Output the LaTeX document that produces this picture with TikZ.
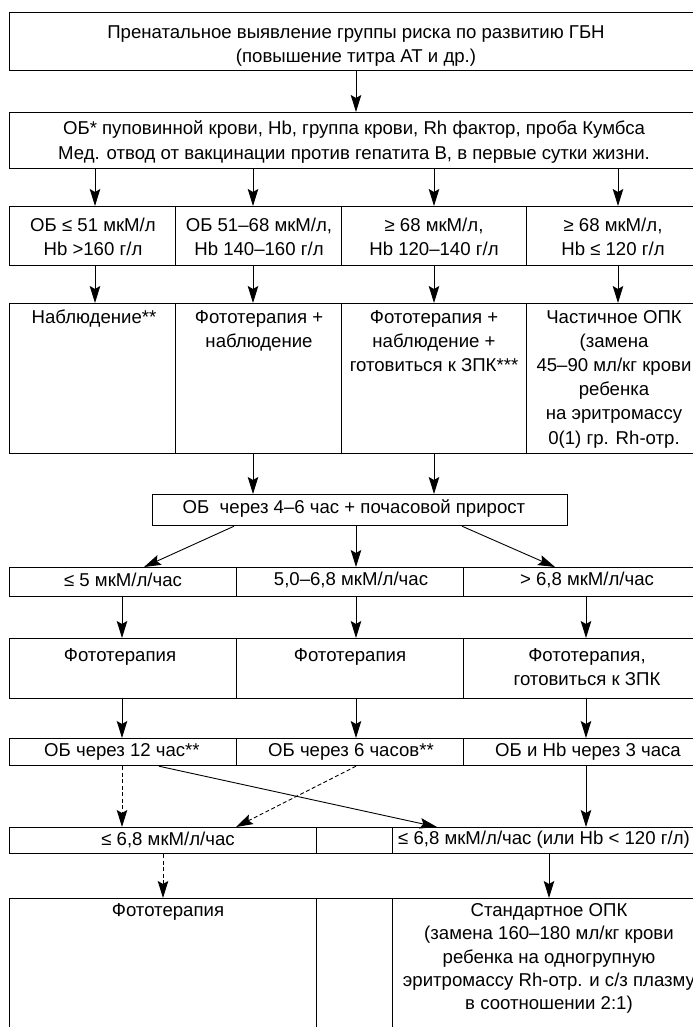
\documentclass[tikz,border=0pt]{standalone}
\usepackage{fontspec}
\setmainfont{Liberation Sans}
\usetikzlibrary{arrows.meta,calc}
\begin{document}
\begin{tikzpicture}[x=1bp,y=-1bp,
  cell/.style={draw, line width=1.2bp, anchor=north west, inner sep=0pt},
  txt/.style={align=center, inner sep=0pt, font=\fontsize{18.6bp}{24.2bp}\selectfont},
  txtn/.style={txt, anchor=north},
  arr/.style={-{Stealth[length=17bp,width=10.5bp,inset=3bp]}, line width=0.9bp},
  dsh/.style={arr, dash pattern=on 4bp off 2.5bp}]
\useasboundingbox (0,0) rectangle (693,1027);
\clip (0,0) rectangle (693,1027);
% column coordinates
\coordinate (xa) at (356,0);
\coordinate (x1) at (95,0);
\coordinate (x2) at (253,0);
\coordinate (x3) at (434,0);
\coordinate (x4) at (618,0);
\coordinate (y1) at (122,0);
\coordinate (y3) at (586,0);
% boxes
\node[cell, minimum width=695bp, minimum height=58bp] (r1) at (9,12) {};
\node[cell, minimum width=695bp, minimum height=56bp] (r2) at (9,112) {};
\node[cell, minimum width=166bp, minimum height=59bp] (c31) at (9,206) {};
\node[cell, minimum width=166bp, minimum height=59bp] (c32) at (175,206) {};
\node[cell, minimum width=185bp, minimum height=59bp] (c33) at (341,206) {};
\node[cell, minimum width=178bp, minimum height=59bp] (c34) at (526,206) {};
\node[cell, minimum width=166bp, minimum height=150bp] (c41) at (9,303) {};
\node[cell, minimum width=166bp, minimum height=150bp] (c42) at (175,303) {};
\node[cell, minimum width=185bp, minimum height=150bp] (c43) at (341,303) {};
\node[cell, minimum width=178bp, minimum height=150bp] (c44) at (526,303) {};
\node[cell, minimum width=415bp, minimum height=31bp] (r5) at (152,494) {};
\node[cell, minimum width=227bp, minimum height=29bp] (c61) at (9,567) {};
\node[cell, minimum width=227bp, minimum height=29bp] (c62) at (236,567) {};
\node[cell, minimum width=241bp, minimum height=29bp] (c63) at (463,567) {};
\node[cell, minimum width=227bp, minimum height=60bp] (c71) at (9,638) {};
\node[cell, minimum width=227bp, minimum height=60bp] (c72) at (236,638) {};
\node[cell, minimum width=241bp, minimum height=60bp] (c73) at (463,638) {};
\node[cell, minimum width=227bp, minimum height=27bp] (c81) at (9,738) {};
\node[cell, minimum width=227bp, minimum height=27bp] (c82) at (236,738) {};
\node[cell, minimum width=241bp, minimum height=27bp] (c83) at (463,738) {};
\node[cell, minimum width=307bp, minimum height=26bp] (c91) at (9,827) {};
\node[cell, minimum width=76bp, minimum height=26bp] (c92) at (316,827) {};
\node[cell, minimum width=312bp, minimum height=26bp] (c93) at (392,827) {};
\node[cell, minimum width=307bp, minimum height=150bp] (c101) at (9,898) {};
\node[cell, minimum width=76bp, minimum height=150bp] (c102) at (316,898) {};
\node[cell, minimum width=312bp, minimum height=150bp] (c103) at (392,898) {};
% texts
\node[txt] (t1) at (356,46) {Пренатальное выявление группы риска по развитию ГБН\\(повышение титра АТ и др.)};
\node[txt] (t2) at (354,142) {ОБ* пуповинной крови, Hb, группа крови, Rh фактор, проба Кумбса\\Мед. отвод от вакцинации против гепатита В, в первые сутки жизни.};
\node[txt] (t31) at (93,237) {ОБ ≤ 51 мкМ/л\\Hb >160 г/л};
\node[txt] (t32) at (259,237) {ОБ 51–68 мкМ/л,\\Hb 140–160 г/л};
\node[txt] (t33) at (434,237) {≥ 68 мкМ/л,\\Hb 120–140 г/л};
\node[txt] (t34) at (613,237) {≥ 68 мкМ/л,\\Hb ≤ 120 г/л};
\node[txtn] (t41) at (94,310) {Наблюдение**};
\node[txtn] (t42) at (259,310) {Фототерапия +\\наблюдение};
\node[txtn] (t43) at (434,310) {Фототерапия +\\наблюдение +\\готовиться к ЗПК***};
\node[txtn] (t44) at (614,310) {Частичное ОПК\\(замена\\45–90 мл/кг крови\\ребенка\\на эритромассу\\0(1) гр. Rh-отр.};
\node[txt] (t5) at (354,509) {ОБ~ через 4–6 час + почасовой прирост};
\node[txt] (t61) at (123,580) {≤ 5 мкМ/л/час};
\node[txt] (t62) at (351,580) {5,0–6,8 мкМ/л/час};
\node[txt] (t63) at (587,580) {> 6,8 мкМ/л/час};
\node[txtn] (t71) at (120,648) {Фототерапия};
\node[txtn] (t72) at (350,648) {Фототерапия};
\node[txtn] (t73) at (587,648) {Фототерапия,\\готовиться к ЗПК};
\node[txt] (t81) at (122,752) {ОБ через 12 час**};
\node[txt] (t82) at (351,752) {ОБ через 6 часов**};
\node[txt] (t83) at (588,752) {ОБ и Hb через 3 часа};
\node[txt] (t91) at (168,840) {≤ 6,8 мкМ/л/час};
\node[txt] (t93) at (544,840) {≤ 6,8 мкМ/л/час (или Hb < 120 г/л)};
\node[txtn] (t101) at (168,903) {Фототерапия};
\node[txtn, font=\fontsize{18.6bp}{23.4bp}\selectfont] (t103) at (549,903) {Стандартное ОПК\\(замена 160–180 мл/кг крови\\ребенка на одногрупную\\эритромассу Rh-отр. и с/з плазму\\в соотношении 2:1)};
% arrows
\draw[arr] (xa |- r1.south) -- (xa |- r2.north);
\foreach \i in {1,2,3,4}{
  \draw[arr] (x\i |- r2.south) -- (x\i |- c3\i.north);
  \draw[arr] (x\i |- c3\i.south) -- (x\i |- c4\i.north);
}
\draw[arr] (x2 |- c42.south) -- (x2 |- r5.north);
\draw[arr] (x3 |- c43.south) -- (x3 |- r5.north);
\draw[arr] ($(r5.south west)+(82,0)$) -- ($(c61.north west)+(135,0)$);
\draw[arr] (xa |- r5.south) -- (xa |- c62.north);
\draw[arr] ($(r5.south west)+(310,0)$) -- ($(c63.north west)+(92,0)$);
\draw[arr] (y1 |- c61.south) -- (y1 |- c71.north);
\draw[arr] (xa |- c62.south) -- (xa |- c72.north);
\draw[arr] (y3 |- c63.south) -- (y3 |- c73.north);
\draw[arr] (y1 |- c71.south) -- (y1 |- c81.north);
\draw[arr] (xa |- c72.south) -- (xa |- c82.north);
\draw[arr] (y3 |- c73.south) -- (y3 |- c83.north);
\draw[dsh] (y1 |- c81.south) -- (y1 |- c91.north);
\draw[arr] ($(c81.south west)+(150,0)$) -- ($(c93.north west)+(45,0)$);
\draw[dsh] (xa |- c82.south) -- ($(c91.north west)+(227,0)$);
\draw[arr] (y3 |- c83.south) -- (y3 |- c93.north);
\draw[dsh] ($(c91.south west)+(154,0)$) -- ($(c101.north west)+(154,0)$);
\draw[arr] ($(c93.south west)+(157,0)$) -- ($(c103.north west)+(157,0)$);
\end{tikzpicture}
\end{document}
